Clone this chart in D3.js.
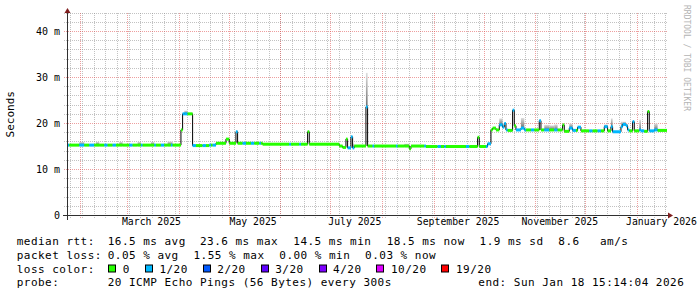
<!DOCTYPE html>
<html>
<head>
<meta charset="utf-8">
<script src="https://cdn.jsdelivr.net/npm/d3@7"></script>
<style>
  body { margin: 0; background: #fff; }
  svg { display: block; }
  text { font-family: "DejaVu Sans Mono", monospace; }
</style>
</head>
<body>
<figure id="smoke-chart" style="margin:0"></figure>
<script>
// one entry per step of the median line (step start day)
const stepDates = [
  "2025-01-23", "2025-01-24", "2025-01-25", "2025-01-31", "2025-02-03", "2025-02-06", "2025-02-09", "2025-02-10",
  "2025-02-12", "2025-02-15", "2025-02-17", "2025-02-20", "2025-02-22", "2025-02-24", "2025-02-26", "2025-03-02",
  "2025-03-04", "2025-03-07", "2025-03-09", "2025-03-10", "2025-03-15", "2025-03-17", "2025-03-18", "2025-03-21",
  "2025-03-23", "2025-03-25", "2025-03-27", "2025-03-28", "2025-04-02", "2025-04-03", "2025-04-04", "2025-04-06",
  "2025-04-09", "2025-04-11", "2025-04-15", "2025-04-17", "2025-04-19", "2025-04-20", "2025-04-21", "2025-04-23",
  "2025-04-29", "2025-05-01", "2025-05-05", "2025-05-06", "2025-05-09", "2025-05-11", "2025-05-14", "2025-05-16",
  "2025-05-19", "2025-05-20", "2025-05-21", "2025-06-06", "2025-06-07", "2025-06-12", "2025-06-13", "2025-06-17",
  "2025-06-18", "2025-07-06", "2025-07-08", "2025-07-10", "2025-07-11", "2025-07-13", "2025-07-14", "2025-07-15",
  "2025-07-22", "2025-07-23", "2025-07-26", "2025-07-27", "2025-08-09", "2025-08-10", "2025-08-14", "2025-08-17",
  "2025-08-18", "2025-08-26", "2025-08-27", "2025-09-03", "2025-09-05", "2025-09-07", "2025-09-08", "2025-09-20",
  "2025-09-22", "2025-09-27", "2025-09-28", "2025-10-02", "2025-10-03", "2025-10-05", "2025-10-06", "2025-10-08",
  "2025-10-10", "2025-10-12", "2025-10-13", "2025-10-14", "2025-10-15", "2025-10-18", "2025-10-19", "2025-10-20",
  "2025-10-23", "2025-10-25", "2025-10-26", "2025-10-29", "2025-10-31", "2025-11-03", "2025-11-04", "2025-11-06",
  "2025-11-09", "2025-11-12", "2025-11-14", "2025-11-17", "2025-11-18", "2025-11-21", "2025-11-23", "2025-11-25",
  "2025-11-26", "2025-11-28", "2025-12-03", "2025-12-05", "2025-12-08", "2025-12-10", "2025-12-12", "2025-12-14",
  "2025-12-16", "2025-12-17", "2025-12-22", "2025-12-23", "2025-12-25", "2025-12-26", "2025-12-27", "2025-12-29",
  "2025-12-30", "2026-01-02", "2026-01-03", "2026-01-05", "2026-01-07", "2026-01-08", "2026-01-11", "2026-01-13"
];
const medianMs = [
  15.3, 15.3, 15.3, 15.3, 15.3, 15.3, 15.3, 15.3,
  15.3, 15.3, 15.3, 15.3, 15.3, 15.3, 15.3, 15.3,
  15.3, 15.3, 15.3, 15.3, 15.3, 15.3, 15.3, 15.3,
  15.3, 15.3, 15.3, 15.3, 18.6, 22.1, 22.1, 22.1,
  15.2, 15.2, 15.2, 15.2, 15.3, 15.3, 15.3, 15.7,
  16.6, 15.7, 18.2, 15.7, 15.7, 15.7, 15.7, 15.7,
  15.7, 15.7, 15.5, 15.5, 15.5, 15.5, 15.5, 18.2,
  15.5, 15.1, 14.8, 16.6, 14.7, 17.1, 14.7, 15.1,
  23.6, 15.1, 15.1, 15.1, 15.1, 15.1, 15.1, 14.5,
  15.1, 15.1, 15.0, 15.0, 15.0, 15.0, 15.0, 15.0,
  15.0, 17.0, 15.0, 15.0, 15.6, 18.6, 19.0, 18.6,
  19.7, 19.2, 20.0, 18.6, 18.5, 22.9, 19.5, 18.6,
  19.0, 18.6, 18.6, 18.6, 18.6, 20.6, 18.6, 18.6,
  18.6, 18.6, 18.6, 19.7, 18.3, 19.0, 18.5, 18.5,
  19.2, 18.4, 18.4, 18.4, 18.4, 18.4, 19.3, 18.4,
  19.3, 18.2, 19.3, 19.8, 19.5, 18.6, 18.4, 20.4,
  18.4, 18.6, 18.4, 18.3, 22.6, 18.4, 18.6, 18.5
];
const lossOf20 = [
  0, 1, 0, 1, 0, 1, 0, 0,
  0, 1, 0, 1, 0, 0, 0, 1,
  0, 0, 1, 0, 0, 1, 0, 1,
  0, 0, 1, 0, 0, 1, 1, 0,
  1, 0, 1, 0, 1, 0, 1, 0,
  0, 0, 1, 0, 1, 0, 1, 0,
  1, 0, 0, 1, 0, 1, 0, 0,
  0, 0, 0, 0, 1, 1, 1, 0,
  1, 0, 1, 0, 1, 0, 0, 0,
  0, 1, 0, 1, 0, 1, 0, 1,
  0, 0, 0, 1, 1, 0, 0, 0,
  1, 1, 1, 1, 0, 1, 0, 1,
  1, 1, 0, 1, 0, 1, 0, 1,
  0, 1, 0, 0, 0, 1, 1, 0,
  1, 0, 1, 0, 1, 0, 1, 0,
  1, 1, 1, 1, 1, 1, 0, 1,
  0, 1, 1, 0, 0, 1, 1, 0
];
const smokeTopMs = [
  16.1, 15.3, 15.3, 16.0, 15.3, 15.3, 15.3, 16.0,
  15.3, 15.3, 15.3, 15.3, 15.3, 16.0, 15.3, 15.3,
  15.3, 16.0, 15.3, 15.3, 16.0, 15.3, 15.3, 15.3,
  15.3, 16.1, 16.1, 15.3, 18.6, 22.1, 22.8, 22.1,
  15.2, 15.2, 15.2, 15.2, 15.3, 15.3, 15.3, 15.7,
  16.6, 15.7, 18.2, 15.7, 15.7, 15.7, 15.7, 15.7,
  15.7, 15.7, 15.5, 15.5, 15.5, 15.5, 15.5, 18.2,
  15.5, 15.1, 14.8, 16.6, 14.7, 17.1, 15.6, 15.1,
  31.0, 15.1, 15.1, 15.1, 15.1, 15.1, 15.6, 14.5,
  15.1, 15.1, 15.0, 15.0, 15.0, 15.0, 15.0, 15.0,
  15.0, 17.0, 15.0, 15.0, 15.6, 18.6, 19.0, 18.6,
  21.1, 19.2, 20.0, 18.6, 18.5, 22.9, 19.5, 18.6,
  21.2, 18.6, 18.6, 18.6, 18.6, 20.6, 18.6, 19.7,
  19.6, 19.8, 18.6, 19.7, 18.3, 20.0, 18.5, 18.5,
  19.2, 18.4, 18.4, 18.4, 18.4, 18.4, 19.8, 18.4,
  21.1, 18.2, 20.4, 20.4, 19.9, 18.6, 18.4, 20.4,
  18.4, 20.8, 18.4, 18.3, 22.6, 18.4, 20.0, 18.5
];
const endTime = "2026-01-18T15:14:04";
const spanDays = 360;

const yTicks = [0, 10, 20, 30, 40];
const yMinorStep = 2;
const yMax = 44;

const lossSteps = [0, 1, 2, 3, 4, 10, 19];
const lossLabels = ["0", "1/20", "2/20", "3/20", "4/20", "10/20", "19/20"];
const lossColors = ["#26ff00", "#00b8ff", "#0059ff", "#5e00ff", "#7e00ff", "#dd00ff", "#ff0000"];

const rttStats = ["16.5 ms avg", "23.6 ms max", "14.5 ms min", "18.5 ms now", "1.9 ms sd", "8.6", "am/s"];
const lossStats = ["0.05 % avg", "1.55 % max", "0.00 % min", "0.03 % now"];
const probeText = "20 ICMP Echo Pings (56 Bytes) every 300s";
const endText = "end: Sun Jan 18 15:14:04 2026";

const W = 697, H = 297;
const plotLeft = 67, plotRight = 667, plotBottom = 215.5, pxPerMs = 4.6;

const parse = d3.utcParse("%Y-%m-%d");
const end = d3.utcParse("%Y-%m-%dT%H:%M:%S")(endTime);
const start = d3.utcDay.offset(end, -spanDays);

const x = d3.scaleUtc().domain([start, end]).range([plotLeft, plotRight]);
const y = d3.scaleLinear().domain([0, yMax]).range([plotBottom, plotBottom - yMax * pxPerMs]);
const plotTop = y(yMax);
const px = v => Math.round(v - 0.5) + 0.5;

const svg = d3.select("#smoke-chart").append("svg")
  .attr("width", W)
  .attr("height", H);
svg.append("rect").attr("width", W).attr("height", H).attr("fill", "#fff");

const defs = svg.append("defs");
defs.append("clipPath").attr("id", "plot")
  .append("rect").attr("x", plotLeft).attr("y", 0).attr("width", plotRight - plotLeft).attr("height", plotBottom);
const grad = defs.append("linearGradient").attr("id", "smoke")
  .attr("x1", 0).attr("y1", 0).attr("x2", 0).attr("y2", 1);
grad.append("stop").attr("offset", 0).attr("stop-color", "#dedede");
grad.append("stop").attr("offset", 1).attr("stop-color", "#6e6e6e");

// grid
const grid = svg.append("g")
  .attr("fill", "none")
  .attr("stroke-dasharray", "1,1")
  .attr("shape-rendering", "crispEdges");

const minorY = d3.range(yMinorStep, yMax + 0.1, yMinorStep).filter(v => v % 10 !== 0);
grid.selectAll(".hmin").data(minorY).enter().append("line")
  .attr("x1", plotLeft - 3).attr("x2", plotRight)
  .attr("y1", d => px(y(d))).attr("y2", d => px(y(d)))
  .attr("stroke", "rgba(143,143,143,0.55)");

const weeks = d3.utcSunday.range(start, end);
grid.selectAll(".vmin").data(weeks).enter().append("line")
  .attr("x1", d => px(x(d))).attr("x2", d => px(x(d)))
  .attr("y1", plotTop).attr("y2", plotBottom + 3)
  .attr("stroke", "rgba(143,143,143,0.55)");

grid.selectAll(".hmaj").data(yTicks.filter(v => v > 0)).enter().append("line")
  .attr("x1", plotLeft - 3).attr("x2", plotRight)
  .attr("y1", d => px(y(d))).attr("y2", d => px(y(d)))
  .attr("stroke", "rgba(224,80,80,0.55)");

const months = d3.utcMonth.range(start, end);
grid.selectAll(".vmaj").data(months).enter().append("line")
  .attr("x1", d => px(x(d))).attr("x2", d => px(x(d)))
  .attr("y1", plotTop).attr("y2", plotBottom + 3)
  .attr("stroke", "rgba(224,80,80,0.55)");

// data
const steps = stepDates.map((d, i) => ({
  t0: parse(d),
  t1: i < stepDates.length - 1 ? parse(stepDates[i + 1]) : end,
  med: medianMs[i],
  loss: lossOf20[i],
  smoke: smokeTopMs[i]
}));

const lossColor = v => lossColors[d3.bisectRight(lossSteps, v) - 1];

const plot = svg.append("g").attr("clip-path", "url(#plot)");

plot.selectAll(".smoke").data(steps.filter(s => s.smoke > s.med)).enter().append("rect")
  .attr("x", d => x(d.t0))
  .attr("width", d => x(d.t1) - x(d.t0))
  .attr("y", d => y(d.smoke))
  .attr("height", d => y(d.med) - y(d.smoke))
  .attr("fill", "url(#smoke)");

const linePts = steps.map(s => ({ t: s.t0, v: s.med }))
  .concat([{ t: end, v: medianMs[medianMs.length - 1] }]);
plot.append("path")
  .datum(linePts)
  .attr("fill", "none")
  .attr("stroke", "#000")
  .attr("stroke-width", 1)
  .attr("d", d3.line().x(d => x(d.t)).y(d => y(d.v)).curve(d3.curveStepAfter));

plot.selectAll(".med").data(steps).enter().append("rect")
  .attr("x", d => x(d.t0))
  .attr("width", d => x(d.t1) - x(d.t0))
  .attr("y", d => y(d.med) - 1.5)
  .attr("height", 3)
  .attr("fill", d => lossColor(d.loss));

// axes lines + arrows
svg.append("line")
  .attr("x1", plotLeft - 4).attr("x2", plotRight + 2)
  .attr("y1", plotBottom).attr("y2", plotBottom)
  .attr("stroke", "#303030").attr("shape-rendering", "crispEdges");
svg.append("line")
  .attr("x1", plotLeft + 0.5).attr("x2", plotLeft + 0.5)
  .attr("y1", plotBottom + 4).attr("y2", plotTop - 4)
  .attr("stroke", "#303030").attr("shape-rendering", "crispEdges");
svg.append("path")
  .attr("d", `M${plotRight + 1},${plotBottom - 3}L${plotRight + 6},${plotBottom}L${plotRight + 1},${plotBottom + 3}Z`)
  .attr("fill", "#801f1f");
svg.append("path")
  .attr("d", `M${plotLeft - 2.5},${plotTop}L${plotLeft + 0.5},${plotTop - 5}L${plotLeft + 3.5},${plotTop}Z`)
  .attr("fill", "#801f1f");

// tick labels
const labelMonths = d3.utcMonth.every(2).range(start, end).map(m => d3.utcDay.offset(m, 14));
const fmtMonth = d3.utcFormat("%B %Y");
const xAxis = svg.append("g")
  .attr("transform", `translate(0,${plotBottom})`)
  .call(d3.axisBottom(x).tickValues(labelMonths).tickSize(0).tickPadding(3)
    .tickFormat(d => fmtMonth(d3.utcMonth.floor(d))));
xAxis.select(".domain").remove();
xAxis.selectAll("text")
  .attr("dy", "0.71em")
  .style("font-family", "DejaVu Sans Mono")
  .style("font-size", "9.8px")
  .attr("fill", "#000");

const yAxis = svg.append("g")
  .attr("transform", `translate(${plotLeft},0)`)
  .call(d3.axisLeft(y).tickValues(yTicks).tickSize(0).tickPadding(7)
    .tickFormat(d => d === 0 ? "0" : d + " m"));
yAxis.select(".domain").remove();
yAxis.selectAll("text")
  .style("font-family", "DejaVu Sans Mono")
  .style("font-size", "10px")
  .attr("fill", "#000");

// titles
svg.append("text")
  .attr("transform", `translate(14,${(plotTop + plotBottom) / 2}) rotate(-90)`)
  .attr("text-anchor", "middle")
  .style("font-size", "11px")
  .text("Seconds");

svg.append("text")
  .attr("transform", "translate(684,5) rotate(90)")
  .style("font-size", "8px")
  .attr("fill", "#b4b4b4")
  .text("RRDTOOL / TOBI OETIKER");

// legend
const legend = svg.append("g")
  .style("font-size", "11px")
  .style("letter-spacing", "0.48px")
  .style("white-space", "pre");
const rows = [245.3, 259, 272.7, 286.4];
const col = 107.7;

legend.append("text").attr("x", 16.7).attr("y", rows[0]).text("median rtt:");
const rttX = [col, 200, 293.3, 386.7, 479.6, 558.3, 600];
legend.selectAll(".rtt").data(rttStats).enter().append("text")
  .attr("x", (d, i) => rttX[i]).attr("y", rows[0]).text(d => d);

legend.append("text").attr("x", 16.7).attr("y", rows[1]).text("packet loss:");
legend.selectAll(".pl").data(lossStats).enter().append("text")
  .attr("x", (d, i) => col + i * 85.8).attr("y", rows[1]).text(d => d);

legend.append("text").attr("x", 16.7).attr("y", rows[2]).text("loss color:");
let bx = 108.3;
const boxX = lossLabels.map(l => { const v = bx; bx += 29.5 + l.length * 7.1; return v; });
legend.selectAll(".lb").data(lossLabels).enter().append("rect")
  .attr("x", (d, i) => Math.round(boxX[i]) + 0.5)
  .attr("y", rows[2] - 7.7)
  .attr("width", 7).attr("height", 7)
  .attr("fill", (d, i) => lossColors[i])
  .attr("stroke", "#000");
legend.selectAll(".lt").data(lossLabels).enter().append("text")
  .attr("x", (d, i) => boxX[i] + 14.5).attr("y", rows[2]).text(d => d);

legend.append("text").attr("x", 16.7).attr("y", rows[3]).text("probe:");
legend.append("text").attr("x", col).attr("y", rows[3]).text(probeText);
legend.append("text").attr("x", 478.3).attr("y", rows[3]).text(endText);
</script>
</body>
</html>
